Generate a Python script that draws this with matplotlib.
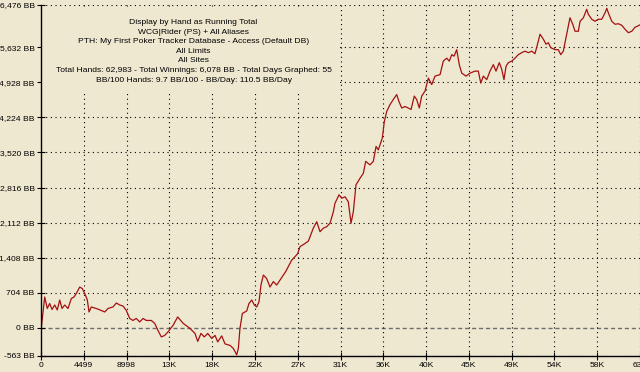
import matplotlib
matplotlib.use("Agg")
import matplotlib.pyplot as plt
from matplotlib.patches import Rectangle

# running total (hands, BB)
hands = [0, 30, 390, 660, 910, 1160, 1440, 1710, 1970, 2210, 2490, 2840, 3190, 3470,
         3710, 4070, 4340, 4600, 4870, 5050, 5290, 5810, 6340, 6700, 7050, 7570, 7920,
         8280, 8620, 8970, 9330, 9670, 10020, 10380, 10730, 11070, 11600, 11960, 12300,
         12650, 13010, 13350, 13880, 14370, 14960, 15670, 16190, 16480, 16820, 17170,
         17530, 17950, 18300, 18580, 19000, 19350, 19870, 20220, 20580, 20750, 20920,
         21170, 21630, 21870, 22160, 22430, 22680, 22920, 23130, 23380, 23730, 24080,
         24430, 24780, 25130, 25480, 25730, 26000, 26360, 26710, 26990, 27230, 27650,
         28110, 28630, 28990, 29340, 29680, 30040, 30390, 30740, 30910, 31340, 31620,
         31970, 32310, 32600, 32840, 33120, 33540, 33890, 34140, 34590, 34940, 35230,
         35470, 35890, 36100, 36350, 36700, 37040, 37400, 37640, 37930, 38270, 38620,
         38910, 39250, 39500, 39780, 40030, 40380, 40730, 41080, 41430, 41960, 42300,
         42660, 42930, 43190, 43430, 43710, 43980, 44240, 44690, 45110, 45640, 45980,
         46240, 46510, 46870, 47210, 47560, 47840, 48190, 48440, 48680, 48900, 49140,
         49490, 49840, 50190, 50550, 50890, 51240, 51600, 51940, 52290, 52470, 52820,
         53100, 53340, 53600, 54050, 54390, 54650, 54920, 55280, 55620, 55910, 56150,
         56500, 56680, 57030, 57380, 57550, 57910, 58250, 58600, 58960, 59310, 59490,
         59650, 60010, 60360, 60710, 61060, 61410, 61760, 62120, 62460, 62700, 62983]
winnings = [0, 0, 620, 390, 490, 370, 460, 360, 560, 390, 460, 390, 590, 620,
            690, 820, 790, 690, 560, 320, 420, 390, 350, 320, 390, 420, 500,
            460, 440, 350, 190, 150, 190, 120, 190, 150, 150, 90, -50,
            -180, -150, -80, 50, 220, 90, -10, -110, -270, -110, -180,
            -110, -210, -150, -280, -160, -320, -350, -410, -540, -410, -10,
            290, 340, 490, 560, 460, 420, 520, 860, 1060, 990, 820,
            930, 860, 960, 1060, 1130, 1230, 1360, 1430, 1490, 1630, 1680,
            1740, 2000, 2130, 1930, 2000, 2030, 2100, 2330, 2500, 2670, 2600,
            2630, 2530, 2100, 2330, 2870, 3000, 3100, 3340, 3270, 3340, 3640,
            3570, 3810, 4140, 4340, 4480, 4580, 4680, 4540, 4410, 4440, 4410,
            4380, 4650, 4580, 4410, 4650, 4750, 5010, 4880, 5050, 5080, 5350,
            5410, 5350, 5480, 5450, 5580, 5280, 5110, 5050, 5110, 5150, 5150,
            4910, 5050, 4980, 5150, 5280, 5150, 5320, 5190, 4980, 5250, 5320,
            5350, 5410, 5480, 5520, 5550, 5520, 5550, 5500, 5750, 5890, 5790,
            5690, 5720, 5620, 5580, 5580, 5480, 5550, 5890, 6220, 6090, 5950,
            5950, 6150, 6220, 6390, 6290, 6190, 6150, 6190, 6190, 6320, 6410,
            6320, 6150, 6090, 6100, 6070, 5990, 5920, 5950, 6030, 6050, 6078]

x_ticks = [0, 4499, 8998, 13497, 17995, 22494, 26993, 31492, 35990, 40489,
           44988, 49487, 53985, 58484, 62983]
x_labels = ["0", "4499", "8998", "13K", "18K", "22K", "27K", "31K", "36K", "40K",
            "45K", "49K", "54K", "58K", "63K"]
y_ticks = [-563, 0, 704, 1408, 2112, 2816, 3520, 4224, 4928, 5632, 6476]
y_labels = ["-563 BB", "0 BB", "704 BB", "1,408 BB", "2,112 BB", "2,816 BB",
            "3,520 BB", "4,224 BB", "4,928 BB", "5,632 BB", "6,476 BB"]

info_lines = [
    "Display by Hand as Running Total",
    "WCG|Rider (PS) + All Aliases",
    "PTH: My First Poker Tracker Database - Access (Default DB)",
    "All Limits",
    "All Sites",
    "Total Hands: 62,983 - Total Winnings: 6,078 BB - Total Days Graphed: 55",
    "BB/100 Hands: 9.7 BB/100 - BB/Day: 110.5 BB/Day",
]

bg = "#EFE8D1"
plt.rcParams['font.family'] = ['Liberation Sans', 'DejaVu Sans']

W, H = 640, 372
fig = plt.figure(figsize=(6.4, 3.72), dpi=100, facecolor=bg)
ax = fig.add_axes([41 / W, 1 - 356 / H, 599 / W, 351 / H], facecolor=bg)

# grid: dotted black, zero line dashed grey
for yv in y_ticks:
    if yv == 0:
        ax.axhline(yv, color="#6e6e6e", lw=1.0, ls=(0, (3, 2)), zorder=1)
    else:
        ax.axhline(yv, color="black", lw=0.8, ls=(0, (1, 3.2)), zorder=1)
for xv in x_ticks[1:]:
    ax.axvline(xv, color="black", lw=0.8, ls=(0, (1, 3.2)), zorder=1)

# the info text sits on a plain box that hides the grid behind it
ax.add_patch(Rectangle((0, (356 - 93) / 351), (338 - 41) / 599, (93 - 10) / 351,
                       transform=ax.transAxes, facecolor=bg, edgecolor="none",
                       zorder=2))

ax.plot(hands, winnings, color="#A51010", lw=0.9, zorder=3)

ax.set_xlim(0, 62983)
ax.set_ylim(-563, 6476)
ax.set_xticks(x_ticks)
ax.set_xticklabels(x_labels)
ax.set_yticks(y_ticks)
ax.set_yticklabels(y_labels)
ax.tick_params(direction="inout", length=6, width=0.8, labelsize=6.1, pad=1.5)

for s in ["top", "right"]:
    ax.spines[s].set_visible(False)
for s in ["left", "bottom"]:
    ax.spines[s].set_linewidth(1.0)
    ax.spines[s].set_zorder(4)

for i, line in enumerate(info_lines):
    fig.text(193.5 / W, 1 - (22.7 + i * 9.55) / H, line, ha="center", va="center",
             fontsize=6.1, color="black", zorder=5)

fig.savefig("out.png", dpi=100, facecolor=bg)
